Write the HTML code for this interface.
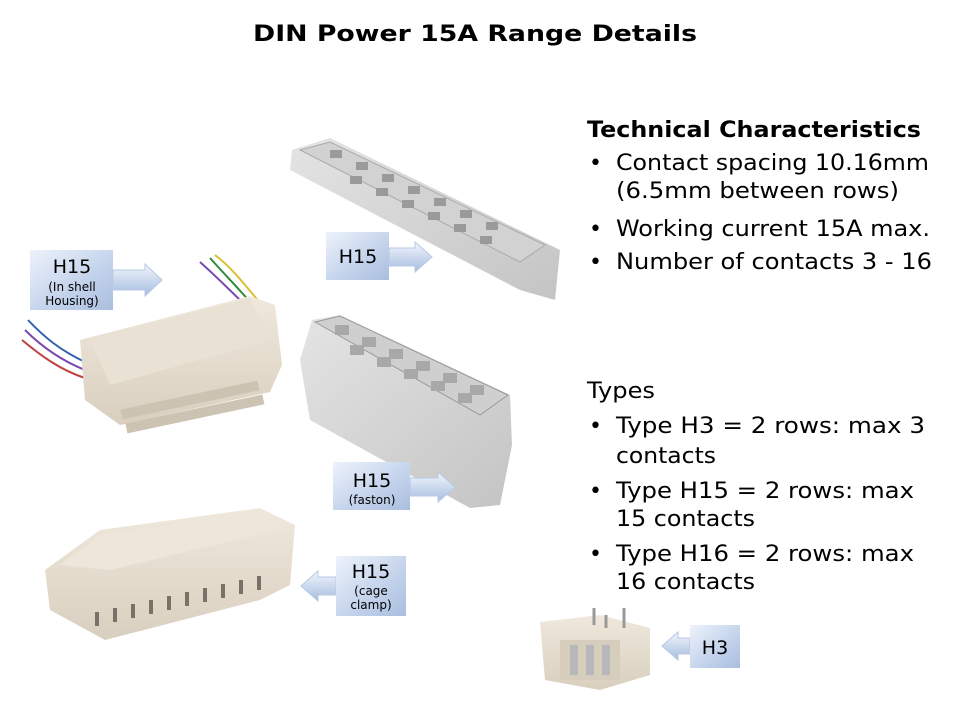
<!DOCTYPE html>
<html><head><meta charset="utf-8"><style>
html,body{margin:0;padding:0;background:#fff;}
svg{display:block;}
text{font-family:"DejaVu Sans","Liberation Sans",sans-serif;fill:#000;}
</style></head><body>
<svg width="960" height="720" viewBox="0 0 960 720" xmlns="http://www.w3.org/2000/svg">
<defs>
<linearGradient id="bx" x1="0" y1="0" x2="1" y2="1">
<stop offset="0" stop-color="#eef3fb"/><stop offset="0.5" stop-color="#c9d7ee"/><stop offset="1" stop-color="#a9bedf"/>
</linearGradient>
<linearGradient id="ar" x1="0" y1="0" x2="0" y2="1">
<stop offset="0" stop-color="#f2f6fc"/><stop offset="1" stop-color="#a6bde0"/>
</linearGradient>
<linearGradient id="beige" x1="0" y1="0" x2="0" y2="1">
<stop offset="0" stop-color="#efe8dc"/><stop offset="1" stop-color="#d9cfbf"/>
</linearGradient>
<linearGradient id="grey" x1="0" y1="0" x2="1" y2="1">
<stop offset="0" stop-color="#e4e4e4"/><stop offset="1" stop-color="#c4c4c4"/>
</linearGradient>
</defs>

<text x="475" y="41" text-anchor="middle" font-size="22" font-weight="bold" textLength="444" lengthAdjust="spacingAndGlyphs">DIN Power 15A Range Details</text>

<text x="587" y="137" font-size="22" font-weight="bold" textLength="334" lengthAdjust="spacingAndGlyphs">Technical Characteristics</text>
<g font-size="22">
<text x="589" y="170">•</text><text x="616" y="170" textLength="313" lengthAdjust="spacingAndGlyphs">Contact spacing 10.16mm</text>
<text x="616" y="198" textLength="283" lengthAdjust="spacingAndGlyphs">(6.5mm between rows)</text>
<text x="589" y="236">•</text><text x="616" y="236" textLength="314" lengthAdjust="spacingAndGlyphs">Working current 15A max.</text>
<text x="589" y="269">•</text><text x="616" y="269" textLength="316" lengthAdjust="spacingAndGlyphs">Number of contacts 3 - 16</text>
<text x="587" y="398" textLength="68" lengthAdjust="spacingAndGlyphs">Types</text>
<text x="589" y="433">•</text><text x="616" y="433" textLength="309" lengthAdjust="spacingAndGlyphs">Type H3 = 2 rows: max 3</text>
<text x="616" y="463" textLength="100" lengthAdjust="spacingAndGlyphs">contacts</text>
<text x="589" y="498">•</text><text x="616" y="498" textLength="298" lengthAdjust="spacingAndGlyphs">Type H15 = 2 rows: max</text>
<text x="616" y="526" textLength="139" lengthAdjust="spacingAndGlyphs">15 contacts</text>
<text x="589" y="561">•</text><text x="616" y="561" textLength="298" lengthAdjust="spacingAndGlyphs">Type H16 = 2 rows: max</text>
<text x="616" y="589" textLength="139" lengthAdjust="spacingAndGlyphs">16 contacts</text>
</g>

<!-- top grey connector -->
<polygon points="292,150 330,138 560,250 555,300 520,290 290,170" fill="url(#grey)"/>
<polygon points="300,150 330,142 545,245 520,262" fill="#d2d2d2" stroke="#aaa" stroke-width="1"/>
<g fill="#9a9a9a">
<rect x="330" y="150" width="12" height="8"/><rect x="356" y="162" width="12" height="8"/><rect x="382" y="174" width="12" height="8"/><rect x="408" y="186" width="12" height="8"/><rect x="434" y="198" width="12" height="8"/><rect x="460" y="210" width="12" height="8"/><rect x="486" y="222" width="12" height="8"/>
<rect x="350" y="176" width="12" height="8"/><rect x="376" y="188" width="12" height="8"/><rect x="402" y="200" width="12" height="8"/><rect x="428" y="212" width="12" height="8"/><rect x="454" y="224" width="12" height="8"/><rect x="480" y="236" width="12" height="8"/>
</g>

<!-- middle grey housing -->
<polygon points="312,320 340,315 510,395 512,445 500,505 470,508 310,420 300,360" fill="url(#grey)"/>
<polygon points="315,322 340,316 508,395 480,415" fill="#cfcfcf" stroke="#999" stroke-width="1"/>
<g fill="#a8a8a8">
<rect x="335" y="325" width="14" height="10"/><rect x="362" y="337" width="14" height="10"/><rect x="389" y="349" width="14" height="10"/><rect x="416" y="361" width="14" height="10"/><rect x="443" y="373" width="14" height="10"/><rect x="470" y="385" width="14" height="10"/>
<rect x="350" y="345" width="14" height="10"/><rect x="377" y="357" width="14" height="10"/><rect x="404" y="369" width="14" height="10"/><rect x="431" y="381" width="14" height="10"/><rect x="458" y="393" width="14" height="10"/>
</g>

<!-- left beige with wires -->
<g stroke-width="2" fill="none">
<path d="M200,262 C220,280 240,300 250,310" stroke="#7a4ab0"/>
<path d="M210,258 C225,275 245,295 255,308" stroke="#2e8b3a"/>
<path d="M215,255 C235,270 250,292 262,305" stroke="#d8c030"/>
<path d="M25,330 C40,345 60,360 85,370" stroke="#7a4ab0"/>
<path d="M22,340 C40,355 60,370 85,378" stroke="#c04040"/>
<path d="M28,320 C45,338 60,350 85,362" stroke="#3060b0"/>
</g>
<polygon points="80,340 250,296 275,305 282,365 270,392 120,425 85,400" fill="url(#beige)"/>
<polygon points="90,340 250,298 270,340 110,385" fill="#e9e1d3"/>
<g fill="#cdc3b3">
<rect x="120" y="395" width="140" height="10" transform="rotate(-12 190 400)"/>
<rect x="125" y="410" width="140" height="10" transform="rotate(-12 190 415)"/>
</g>

<!-- bottom left beige -->
<polygon points="45,570 100,530 260,508 295,525 290,585 260,600 105,640 50,610" fill="url(#beige)"/>
<polygon points="60,565 100,535 260,512 285,528 110,570" fill="#ede6da"/>
<g fill="#7a7268">
<rect x="95" y="612" width="4" height="14"/><rect x="113" y="608" width="4" height="14"/><rect x="131" y="604" width="4" height="14"/><rect x="149" y="600" width="4" height="14"/><rect x="167" y="596" width="4" height="14"/><rect x="185" y="592" width="4" height="14"/><rect x="203" y="588" width="4" height="14"/><rect x="221" y="584" width="4" height="14"/><rect x="239" y="580" width="4" height="14"/><rect x="257" y="576" width="4" height="14"/>
</g>

<!-- H3 small connector -->
<polygon points="540,622 600,615 650,628 650,675 600,690 545,680" fill="url(#beige)"/>
<rect x="560" y="640" width="60" height="40" fill="#d6cdbd"/>
<g fill="#b8b8b8"><rect x="570" y="645" width="8" height="30"/><rect x="586" y="645" width="8" height="30"/><rect x="602" y="645" width="8" height="30"/></g>
<g stroke="#999" stroke-width="3" fill="none"><path d="M594,625 V608"/><path d="M606,628 V615"/><path d="M624,628 V608"/></g>

<!-- label boxes and arrows -->
<g>
<polygon points="113,270 145,270 145,264 162,280 145,296 145,290 113,290" fill="url(#ar)" stroke="#b8c8e4"/>
<rect x="30" y="250" width="83" height="60" fill="url(#bx)"/>
<text x="72" y="273" text-anchor="middle" font-size="19">H15</text>
<text x="72" y="291" text-anchor="middle" font-size="12">(In shell</text>
<text x="72" y="305" text-anchor="middle" font-size="12">Housing)</text>
</g>
<g>
<polygon points="389,248 415,248 415,242 432,257 415,272 415,266 389,266" fill="url(#ar)" stroke="#b8c8e4"/>
<rect x="326" y="232" width="63" height="48" fill="url(#bx)"/>
<text x="358" y="263" text-anchor="middle" font-size="19">H15</text>
</g>
<g>
<polygon points="410,478 438,478 438,472 455,487 438,502 438,496 410,496" fill="url(#ar)" stroke="#b8c8e4"/>
<rect x="333" y="462" width="77" height="48" fill="url(#bx)"/>
<text x="372" y="487" text-anchor="middle" font-size="19">H15</text>
<text x="372" y="504" text-anchor="middle" font-size="12">(faston)</text>
</g>
<g>
<polygon points="336,577 318,577 318,571 301,586 318,601 318,595 336,595" fill="url(#ar)" stroke="#b8c8e4"/>
<rect x="336" y="556" width="70" height="60" fill="url(#bx)"/>
<text x="371" y="578" text-anchor="middle" font-size="19">H15</text>
<text x="371" y="595" text-anchor="middle" font-size="12">(cage</text>
<text x="371" y="609" text-anchor="middle" font-size="12">clamp)</text>
</g>
<g>
<polygon points="690,638 678,638 678,632 662,646 678,660 678,654 690,654" fill="url(#ar)" stroke="#b8c8e4"/>
<rect x="690" y="625" width="50" height="43" fill="url(#bx)"/>
<text x="715" y="654" text-anchor="middle" font-size="19">H3</text>
</g>
</svg>
</body></html>
